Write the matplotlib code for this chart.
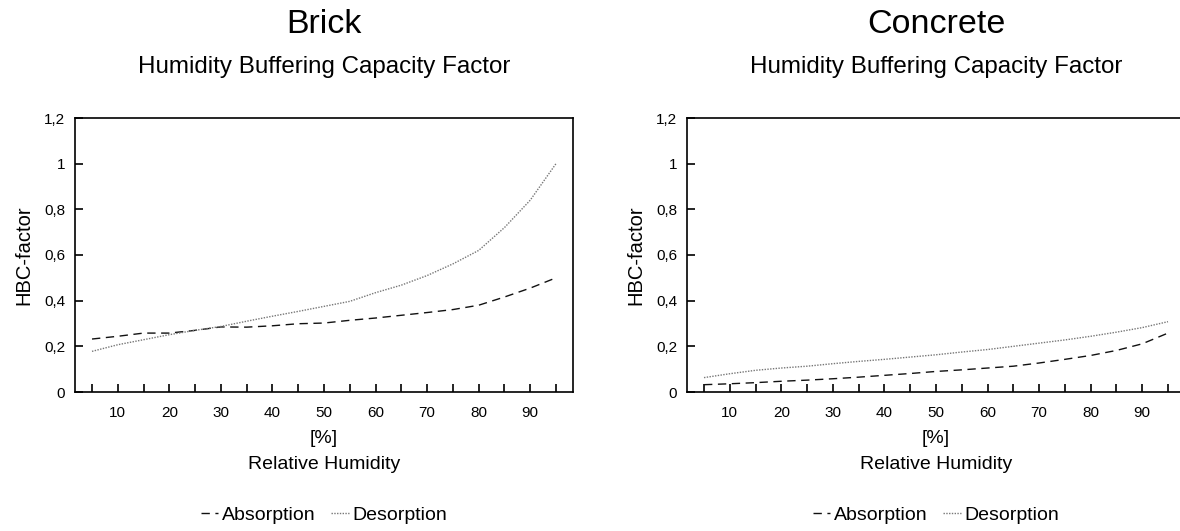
import numpy as np
import matplotlib
matplotlib.use("Agg")
import matplotlib.pyplot as plt

plt.rcParams['font.family'] = ['Liberation Sans', 'DejaVu Sans']

rh = [5, 10, 15, 20, 25, 30, 35, 40, 45, 50, 55, 60, 65, 70, 75, 80, 85, 90, 95]

brick_abs = [0.232, 0.244, 0.258, 0.258, 0.27, 0.285, 0.284, 0.29, 0.299, 0.302,
             0.314, 0.324, 0.336, 0.348, 0.361, 0.38, 0.416, 0.455, 0.5]
brick_des = [0.178, 0.207, 0.229, 0.251, 0.27, 0.287, 0.31, 0.332, 0.353, 0.375,
             0.397, 0.435, 0.468, 0.51, 0.561, 0.62, 0.72, 0.84, 1.0]

concrete_abs = [0.032, 0.036, 0.041, 0.047, 0.052, 0.058, 0.065, 0.073, 0.081, 0.09,
                0.097, 0.105, 0.113, 0.127, 0.143, 0.16, 0.182, 0.211, 0.258]
concrete_des = [0.063, 0.08, 0.095, 0.105, 0.113, 0.124, 0.134, 0.143, 0.153, 0.163,
                0.175, 0.186, 0.2, 0.214, 0.228, 0.244, 0.262, 0.282, 0.308]

yticks = [0, 0.2, 0.4, 0.6, 0.8, 1.0, 1.2]
ytick_labels = ['0', '0,2', '0,4', '0,6', '0,8', '1', '1,2']

W, H = 1180, 531
fig = plt.figure(figsize=(W / 100, H / 100), dpi=100)

# axes boxes in pixels: left, bottom(from top), width, height
ax1 = fig.add_axes([75 / W, 1 - 392 / H, 498 / W, 274 / H])
ax2 = fig.add_axes([687 / W, 1 - 392 / H, 498 / W, 274 / H])


def draw(ax, title, absorption, desorption):
    ax.plot(rh, absorption, color='#111111', lw=1.0, ls=(0, (6, 4)), label='Absorption')
    ax.plot(rh, desorption, color='#777777', lw=1.0, ls=(0, (1, 1)), label='Desorption')
    ax.set_xlim(1.7, 98.3)
    ax.set_ylim(0, 1.2)
    ax.set_xticks(rh)
    ax.set_xticklabels([str(v) if v % 10 == 0 else '' for v in rh])
    ax.set_yticks(yticks)
    ax.set_yticklabels(ytick_labels)
    ax.tick_params(axis='x', direction='in', length=6, width=1.2, pad=10, labelsize=11)
    ax.tick_params(axis='y', direction='in', length=6, width=1.2, pad=7, labelsize=11)
    for s in ax.spines.values():
        s.set_linewidth(1.2)
    ax.set_ylabel('HBC-factor', fontsize=14.5, labelpad=8)
    ax.text(0.5, -0.171, '[%]', transform=ax.transAxes, ha='center', va='center', fontsize=14)
    ax.text(0.5, -0.263, 'Relative Humidity', transform=ax.transAxes, ha='center',
            va='center', fontsize=14)
    ax.text(0.5, 1.343, title, transform=ax.transAxes, ha='center', va='center', fontsize=24.5)
    ax.text(0.5, 1.186, 'Humidity Buffering Capacity Factor', transform=ax.transAxes,
            ha='center', va='center', fontsize=17.4)
    ax.legend(loc='center', bbox_to_anchor=(0.5, -0.449), ncol=2, frameon=False,
              fontsize=14, handlelength=0.9, handletextpad=0.2, columnspacing=0.8)


draw(ax1, 'Brick', brick_abs, brick_des)
draw(ax2, 'Concrete', concrete_abs, concrete_des)

fig.savefig('out.png', dpi=100)
